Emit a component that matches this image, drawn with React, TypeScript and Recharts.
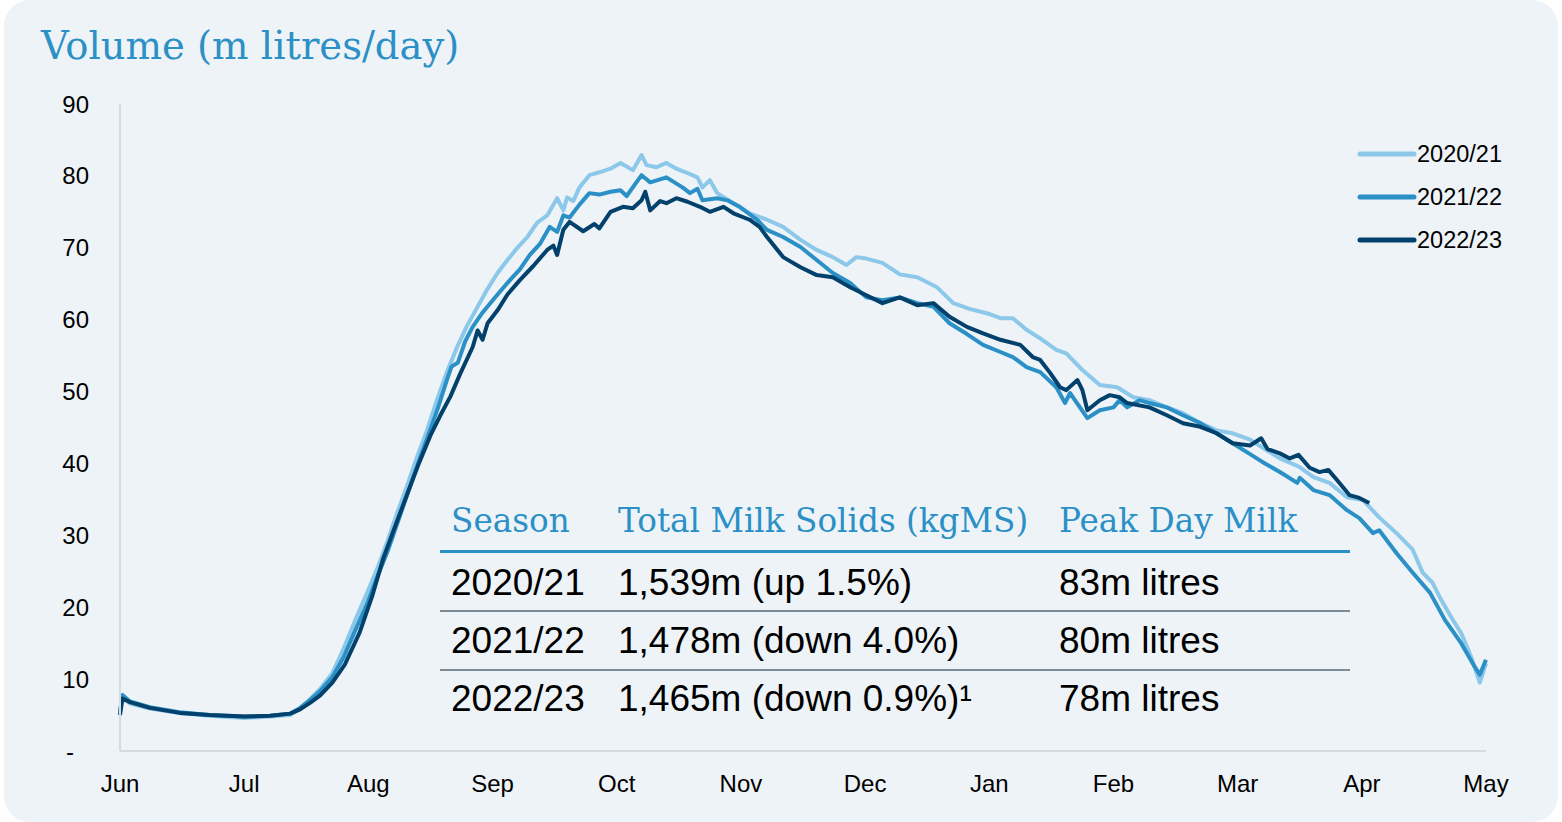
import React from 'react';
import { LineChart, Line, XAxis, YAxis, Legend } from 'recharts';

// ---- Data (x = months since 1 June, y = million litres/day) ----
const MONTH_LABELS = ['Jun', 'Jul', 'Aug', 'Sep', 'Oct', 'Nov', 'Dec', 'Jan', 'Feb', 'Mar', 'Apr', 'May'];
const MONTH_TICKS = [0, 1, 2, 3, 4, 5, 6, 7, 8, 9, 10, 11];
const Y_TICKS = [0, 10, 20, 30, 40, 50, 60, 70, 80, 90];

const season2020: [number, number][] = [
  [0, 5.5], [0.02, 7.5], [0.08, 6.6], [0.24, 5.9], [0.48, 5.3], [0.72, 4.9], [1.0, 4.6], [1.21, 4.8],
  [1.37, 5.0], [1.45, 5.9], [1.53, 7.2], [1.61, 8.6], [1.71, 10.8], [1.8, 14.2], [1.89, 18], [1.99, 22],
  [2.07, 25.3], [2.15, 29], [2.23, 33], [2.31, 36.8], [2.39, 40.8], [2.47, 44.5], [2.55, 48.7],
  [2.63, 52.6], [2.71, 56], [2.79, 59], [2.87, 61.5], [2.95, 64], [3.04, 66.5], [3.12, 68.3], [3.2, 70],
  [3.28, 71.5], [3.36, 73.5], [3.44, 74.5], [3.52, 76.9], [3.57, 75.2], [3.6, 77], [3.65, 76.5],
  [3.7, 78.4], [3.78, 80.1], [3.86, 80.5], [3.95, 81], [4.03, 81.8], [4.13, 80.8], [4.2, 82.9],
  [4.24, 81.5], [4.32, 81.2], [4.4, 81.8], [4.48, 81], [4.57, 80.4], [4.65, 79.8], [4.69, 78.4],
  [4.75, 79.4], [4.81, 77.6], [4.94, 76.2], [5.07, 74.8], [5.21, 73.9], [5.34, 72.9], [5.48, 71.1],
  [5.61, 69.7], [5.74, 68.7], [5.85, 67.6], [5.93, 68.7], [6.01, 68.5], [6.14, 67.9], [6.28, 66.3],
  [6.42, 65.9], [6.58, 64.5], [6.71, 62.3], [6.84, 61.5], [6.98, 60.9], [7.09, 60.2], [7.19, 60.2],
  [7.3, 58.6], [7.41, 57.4], [7.54, 55.8], [7.62, 55.3], [7.75, 53], [7.89, 50.9], [8.03, 50.6],
  [8.16, 49.2], [8.29, 48.8], [8.43, 47.8], [8.56, 47], [8.7, 45.6], [8.83, 44.6], [8.96, 44.2],
  [9.1, 43.3], [9.22, 42], [9.34, 40.7], [9.5, 39.5], [9.61, 38.1], [9.74, 37.3], [9.88, 35.3],
  [10.01, 34.9], [10.14, 32.5], [10.28, 30.3], [10.41, 28], [10.49, 24.8], [10.57, 23.4], [10.64, 21],
  [10.72, 18.6], [10.8, 16.4], [10.88, 13.1], [10.95, 9.5], [11.0, 12.2],
];

const season2021: [number, number][] = [
  [0, 5.5], [0.02, 7.8], [0.08, 6.9], [0.24, 6.1], [0.48, 5.4], [0.72, 5.0], [1.0, 4.8], [1.21, 4.9],
  [1.37, 5.2], [1.45, 6.0], [1.53, 7.1], [1.61, 8.3], [1.71, 10.3], [1.8, 13], [1.89, 16.6], [1.99, 20.5],
  [2.08, 24.6], [2.16, 28], [2.24, 32], [2.32, 36], [2.4, 40], [2.48, 43.8], [2.56, 47.7],
  [2.63, 51.5], [2.67, 53.5], [2.72, 54], [2.78, 57], [2.84, 59], [2.92, 61], [3.04, 63.5], [3.14, 65.5],
  [3.22, 67], [3.3, 69], [3.38, 70.5], [3.46, 72.9], [3.52, 72.2], [3.57, 74.5], [3.62, 74.2], [3.7, 76],
  [3.78, 77.6], [3.86, 77.4], [3.95, 77.8], [4.03, 78], [4.08, 77.2], [4.2, 80.1], [4.27, 79.1],
  [4.4, 79.8], [4.53, 78.4], [4.59, 77.6], [4.65, 78.2], [4.69, 76.6], [4.81, 76.9], [4.89, 76.6],
  [4.99, 75.7], [5.13, 73.9], [5.21, 72.5], [5.34, 71.5], [5.48, 70.1], [5.61, 68.3], [5.74, 66.5],
  [5.88, 65.1], [6.01, 63.1], [6.14, 62.7], [6.28, 63.1], [6.42, 62.3], [6.55, 61.8], [6.68, 59.5],
  [6.82, 58], [6.95, 56.5], [7.09, 55.5], [7.19, 54.8], [7.3, 53.4], [7.41, 52.7], [7.54, 50.6],
  [7.61, 48.4], [7.65, 49.8], [7.73, 47.8], [7.79, 46.3], [7.89, 47.4], [8.0, 47.8], [8.05, 48.8],
  [8.11, 47.8], [8.21, 48.8], [8.29, 48.4], [8.43, 47.8], [8.56, 46.7], [8.7, 45.6], [8.83, 44.2],
  [8.96, 42.8], [9.1, 41.3], [9.22, 40], [9.34, 38.8], [9.48, 37.3], [9.5, 38], [9.61, 36.3],
  [9.74, 35.6], [9.88, 33.5], [9.98, 32.4], [10.09, 30.3], [10.14, 30.7], [10.28, 27.5], [10.41, 24.8],
  [10.55, 22], [10.67, 18.2], [10.8, 15], [10.91, 11.7], [10.95, 10.6], [11.0, 12.7],
];

const season2022: [number, number][] = [
  [0, 5.0], [0.02, 7.3], [0.08, 6.8], [0.24, 6.0], [0.48, 5.3], [0.72, 5.0], [1.0, 4.8], [1.21, 4.9],
  [1.37, 5.2], [1.45, 5.8], [1.53, 6.7], [1.61, 7.7], [1.71, 9.5], [1.81, 12], [1.93, 16.5],
  [2.03, 21.5], [2.12, 26.8], [2.21, 31], [2.31, 35.6], [2.4, 39.7], [2.5, 43.9], [2.58, 46.7],
  [2.66, 49.3], [2.74, 52.5], [2.84, 56.2], [2.88, 58.5], [2.92, 57.2], [2.96, 59.5], [3.04, 61.3],
  [3.12, 63.5], [3.22, 65.5], [3.33, 67.5], [3.44, 69.7], [3.49, 70.3], [3.52, 69], [3.57, 72.5],
  [3.62, 73.6], [3.73, 72.3], [3.82, 73.3], [3.86, 72.7], [3.95, 75.0], [4.05, 75.7], [4.13, 75.5],
  [4.2, 76.6], [4.23, 77.8], [4.27, 75.2], [4.35, 76.5], [4.4, 76.2], [4.48, 76.9], [4.57, 76.4],
  [4.67, 75.7], [4.75, 75], [4.86, 75.7], [4.94, 74.8], [5.07, 73.9], [5.15, 72.9], [5.21, 71.5],
  [5.34, 68.7], [5.48, 67.3], [5.61, 66.2], [5.74, 65.9], [5.88, 64.5], [6.01, 63.4], [6.14, 62.3],
  [6.28, 63.1], [6.42, 62], [6.55, 62.3], [6.68, 60.4], [6.82, 59], [6.95, 58.1], [7.09, 57.2],
  [7.25, 56.5], [7.35, 54.8], [7.41, 54.4], [7.49, 52.6], [7.57, 50.6], [7.62, 50.2], [7.71, 51.6],
  [7.75, 50.2], [7.79, 47.4], [7.89, 48.8], [7.97, 49.5], [8.05, 49.2], [8.11, 48.4], [8.29, 47.8],
  [8.43, 46.7], [8.56, 45.6], [8.7, 45.1], [8.83, 44.2], [8.96, 42.8], [9.1, 42.5], [9.19, 43.5],
  [9.24, 42], [9.34, 41.4], [9.42, 40.7], [9.49, 41.2], [9.58, 39.4], [9.66, 38.8], [9.73, 39.1],
  [9.8, 37.7], [9.9, 35.6], [9.98, 35.2], [10.06, 34.5],
];

const SERIES_NAMES = ['2020/21', '2021/22', '2022/23'];
const SERIES_COLORS = ['#8cc8ea', '#2b90c6', '#02416b'];

// Table
const TABLE_HEADERS = ['Season', 'Total Milk Solids (kgMS)', 'Peak Day Milk'];
const TABLE_SEASONS = ['2020/21', '2021/22', '2022/23'];
const TABLE_SOLIDS = ['1,539m (up 1.5%)', '1,478m (down 4.0%)', '1,465m (down 0.9%)'];
const TABLE_NOTES = ['', '', '¹'];
const TABLE_PEAKS = ['83m litres', '80m litres', '78m litres'];

const toRows = (pts: [number, number][]) => pts.map(([m, v]) => ({ m, v }));

const SANS = '"Liberation Sans", Arial, sans-serif';
const SERIF = '"DejaVu Serif", serif';
const BLUE = '#2b90c6';

const XTick = (props: any) => {
  const { x, y, payload } = props;
  return (
    <text x={x} y={y + 41} textAnchor="middle" fontFamily={SANS} fontSize={24} fill="#000">
      {MONTH_LABELS[payload.value]}
    </text>
  );
};

const YTick = (props: any) => {
  const { x, y, payload } = props;
  const isZero = payload.value === 0;
  return (
    <text x={isZero ? x - 46 : x - 31} y={y + 8.6} textAnchor="end" fontFamily={SANS} fontSize={24} fill="#000">
      {isZero ? '-' : payload.value}
    </text>
  );
};

const LegendContent = (props: any) => {
  const { payload } = props;
  return (
    <div style={{ display: 'flex', flexDirection: 'column' }}>
      {(payload || []).map((p: any) => (
        <div key={p.value} style={{ display: 'flex', alignItems: 'center', height: 43 }}>
          <svg width={60} height={10} style={{ display: 'block' }}>
            <line x1={3} y1={5} x2={57} y2={5} stroke={p.color} strokeWidth={5} strokeLinecap="round" />
          </svg>
          <span style={{ fontFamily: SANS, fontSize: 23.5, color: '#000', lineHeight: '26px' }}>{p.value}</span>
        </div>
      ))}
    </div>
  );
};

export default function App() {
  const seriesData = [season2020, season2021, season2022];
  const colStarts = [451, 618, 1059];
  const rowCenters = [583, 641, 699];

  return (
    <div style={{ position: 'absolute', left: 0, top: 0, width: 1562, height: 822, background: '#ffffff', overflow: 'hidden' }}>
      <div style={{ position: 'absolute', left: 4, top: 0, width: 1554, height: 822, background: '#eef3f7', borderRadius: 26 }} />
      <div
        style={{
          position: 'absolute', left: 41, top: 20, height: 52, lineHeight: '52px',
          fontFamily: SERIF, fontSize: 38.5, color: BLUE, whiteSpace: 'nowrap',
        }}
      >
        Volume (m litres/day)
      </div>
      <div style={{ position: 'absolute', left: 0, top: 0 }}>
        <LineChart width={1562} height={822} margin={{ top: 104, right: 76, bottom: 41, left: 0 }}>
          <XAxis
            type="number"
            dataKey="m"
            domain={[0, 11]}
            ticks={MONTH_TICKS}
            allowDuplicatedCategory={false}
            axisLine={{ stroke: '#d6dade', strokeWidth: 2 }}
            tickLine={false}
            tickSize={0}
            tickMargin={0}
            height={30}
            tick={<XTick />}
            interval={0}
          />
          <YAxis
            type="number"
            domain={[0, 90]}
            ticks={Y_TICKS}
            axisLine={{ stroke: '#d6dade', strokeWidth: 2 }}
            tickLine={false}
            tickSize={0}
            tickMargin={0}
            width={120}
            tick={<YTick />}
            interval={0}
          />
          <Legend
            layout="horizontal"
            verticalAlign="middle"
            align="center"
            wrapperStyle={{ position: 'absolute', left: 1357, top: 132, width: 200, height: 130 }}
            content={<LegendContent />}
          />
          {seriesData.map((pts, i) => (
            <Line
              key={SERIES_NAMES[i]}
              data={toRows(pts)}
              dataKey="v"
              name={SERIES_NAMES[i]}
              type="linear"
              stroke={SERIES_COLORS[i]}
              strokeWidth={4}
              strokeLinejoin="round"
              dot={false}
              activeDot={false}
              isAnimationActive={false}
            />
          ))}
        </LineChart>
      </div>

      {/* Table overlay */}
      <div style={{ position: 'absolute', left: 0, top: 0, width: 1562, height: 822, pointerEvents: 'none' }}>
        {TABLE_HEADERS.map((h, i) => (
          <div
            key={h}
            style={{
              position: 'absolute', left: colStarts[i], top: 521 - 25, height: 50, lineHeight: '50px',
              fontFamily: SERIF, fontSize: 32.7, color: BLUE, whiteSpace: 'nowrap',
            }}
          >
            {h}
          </div>
        ))}
        <div style={{ position: 'absolute', left: 440, top: 550, width: 910, height: 3, background: BLUE }} />
        <div style={{ position: 'absolute', left: 440, top: 610, width: 910, height: 2, background: '#7d8b97' }} />
        <div style={{ position: 'absolute', left: 440, top: 669, width: 910, height: 2, background: '#7d8b97' }} />
        {TABLE_SEASONS.map((s, r) => {
          const cells = [s, TABLE_SOLIDS[r], TABLE_PEAKS[r]];
          return cells.map((c, i) => (
            <div
              key={`${r}-${i}`}
              style={{
                position: 'absolute', left: colStarts[i], top: rowCenters[r] - 25, height: 50, lineHeight: '50px',
                fontFamily: SANS, fontSize: 37, color: '#000', whiteSpace: 'nowrap',
              }}
            >
              {c}
              {i === 1 && TABLE_NOTES[r] ? <span>{TABLE_NOTES[r]}</span> : null}
            </div>
          ));
        })}
      </div>
    </div>
  );
}
